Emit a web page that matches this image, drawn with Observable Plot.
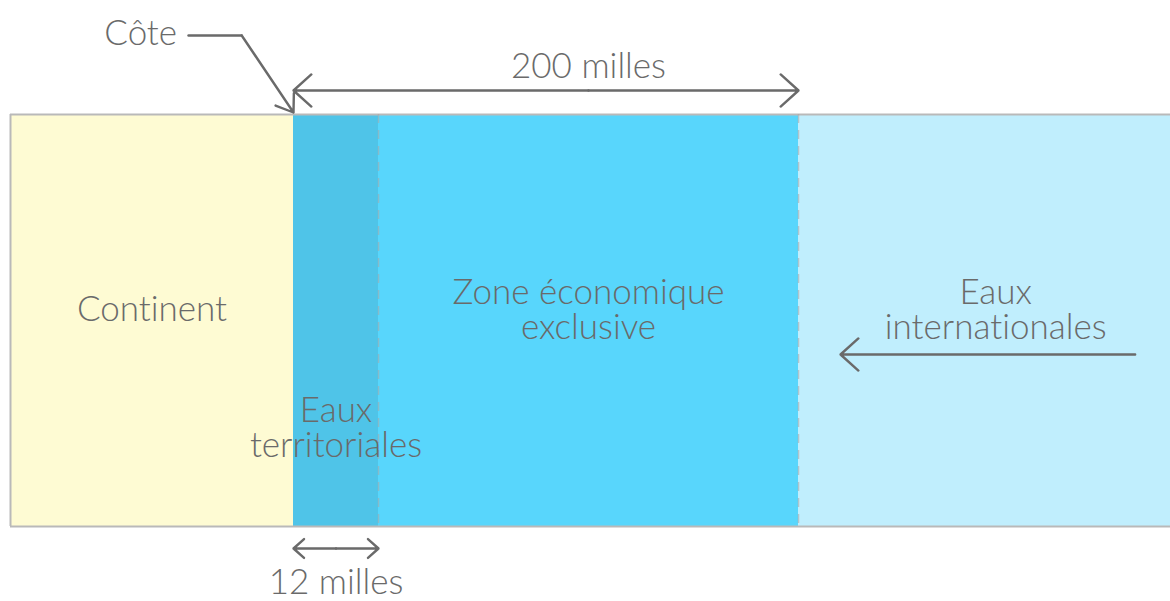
<!DOCTYPE html>
<html>
<head>
<meta charset="utf-8">
<script src="https://cdn.jsdelivr.net/npm/d3@7"></script>
<script src="https://cdn.jsdelivr.net/npm/@observablehq/plot@0.6"></script>
<style>
  html, body { margin: 0; padding: 0; background: #fff; }
  #chart svg { display: block; }
  #chart text { font-variant-ligatures: none; font-feature-settings: "liga" 0; }
</style>
</head>
<body>
<div id="chart"></div>
<script>
// Zones, in nautical miles from the coast (continent and open sea extents are schematic)
const zoneNames = ["Continent", "Eaux territoriales", "Zone économique exclusive", "Eaux internationales"];
const zoneStart = [-100, 0, 12, 200];
const zoneEnd = [0, 12, 200, 400];
const zoneColors = ["#fefbd3", "#4fc4e8", "#58d6fc", "#c0eefd"];

// Limits drawn as dashed lines (miles)
const limits = [12, 200];

// Labels
const labelText = ["Continent", "Zone économique\nexclusive", "Eaux\ninternationales", "Eaux\nterritoriales"];
const labelX = [-50, 106, 306, 6];
const labelRow = ["mid", "mid", "mid", "low"];

const W = 1170, H = 601;
const rows = {top: 114, bottom: 526, mid: 310, low: 428, span200: 90, span12: 548, text200: 66, text12: 582, cote: 35, sea: 354};

const zones = zoneNames.map((name, i) => ({name, x1: zoneStart[i], x2: zoneEnd[i]}));
const labels = labelText.map((t, i) => ({t, x: labelX[i], y: rows[labelRow[i]]}));

const ink = "#6a6a6a";
const fs = 35;
const fw = 300;
const arrowOpts = {stroke: ink, strokeWidth: 2.4, headLength: 15, headAngle: 84};

const plot = Plot.plot({
  width: W,
  height: H,
  margin: 0,
  x: {type: "linear", domain: [-100, 0, 12, 200, 400], range: [10, 293, 378, 798, 1170], axis: null},
  y: {domain: [0, H], range: [0, H], axis: null},
  color: {domain: zoneNames, range: zoneColors},
  style: {fontFamily: "Lato, 'Open Sans', sans-serif", background: "#fff"},
  marks: [
    Plot.rect(zones, {x1: "x1", x2: "x2", y1: () => rows.top, y2: () => rows.bottom, fill: "name"}),
    // outline
    Plot.ruleY([rows.top, rows.bottom], {x1: -100, x2: 400, stroke: "#b9b9b9", strokeWidth: 2}),
    Plot.ruleX([-100], {y1: rows.top, y2: rows.bottom, stroke: "#b9b9b9", strokeWidth: 2}),
    // dashed limits
    Plot.ruleX(limits, {y1: rows.top, y2: rows.bottom, stroke: "#a8a8a8", strokeWidth: 1.5, strokeDasharray: "9,7", strokeOpacity: 0.6}),
    // zone labels
    Plot.text(labels, {x: "x", y: "y", text: "t", fontSize: fs, fontWeight: fw, fill: ink, lineHeight: 0.98, textAnchor: "middle"}),
    // 200 milles span
    Plot.arrow([{a: 106, b: 0}, {a: 106, b: 200}], {x1: "a", x2: "b", y1: () => rows.span200, y2: () => rows.span200, ...arrowOpts}),
    Plot.text(["200 milles"], {x: 106, y: rows.text200, text: d => d, fontSize: fs, fontWeight: fw, fill: ink}),
    // 12 milles span
    Plot.arrow([{a: 6, b: 0}, {a: 6, b: 12}], {x1: "a", x2: "b", y1: () => rows.span12, y2: () => rows.span12, ...arrowOpts}),
    Plot.text(["12 milles"], {x: 6, y: rows.text12, text: d => d, fontSize: fs, fontWeight: fw, fill: ink}),
    // international waters arrow
    Plot.arrow([{a: 381, b: 222.6}], {x1: "a", x2: "b", y1: () => rows.sea, y2: () => rows.sea, ...arrowOpts}),
    // Côte leader
    Plot.text(["Côte"], {x: -54, y: rows.cote - 2, text: d => d, fontSize: fs, fontWeight: fw, fill: ink, textAnchor: "middle"}),
    Plot.line([{x: -37.1, y: rows.cote}, {x: -18.3, y: rows.cote}], {x: "x", y: "y", stroke: ink, strokeWidth: 2.4}),
    Plot.arrow([{a: -18.3, b: 0}], {x1: "a", x2: "b", y1: () => rows.cote, y2: () => rows.top - 2, stroke: ink, strokeWidth: 2.4, headLength: 12, headAngle: 70})
  ]
});
document.getElementById("chart").appendChild(plot);
</script>
</body>
</html>
